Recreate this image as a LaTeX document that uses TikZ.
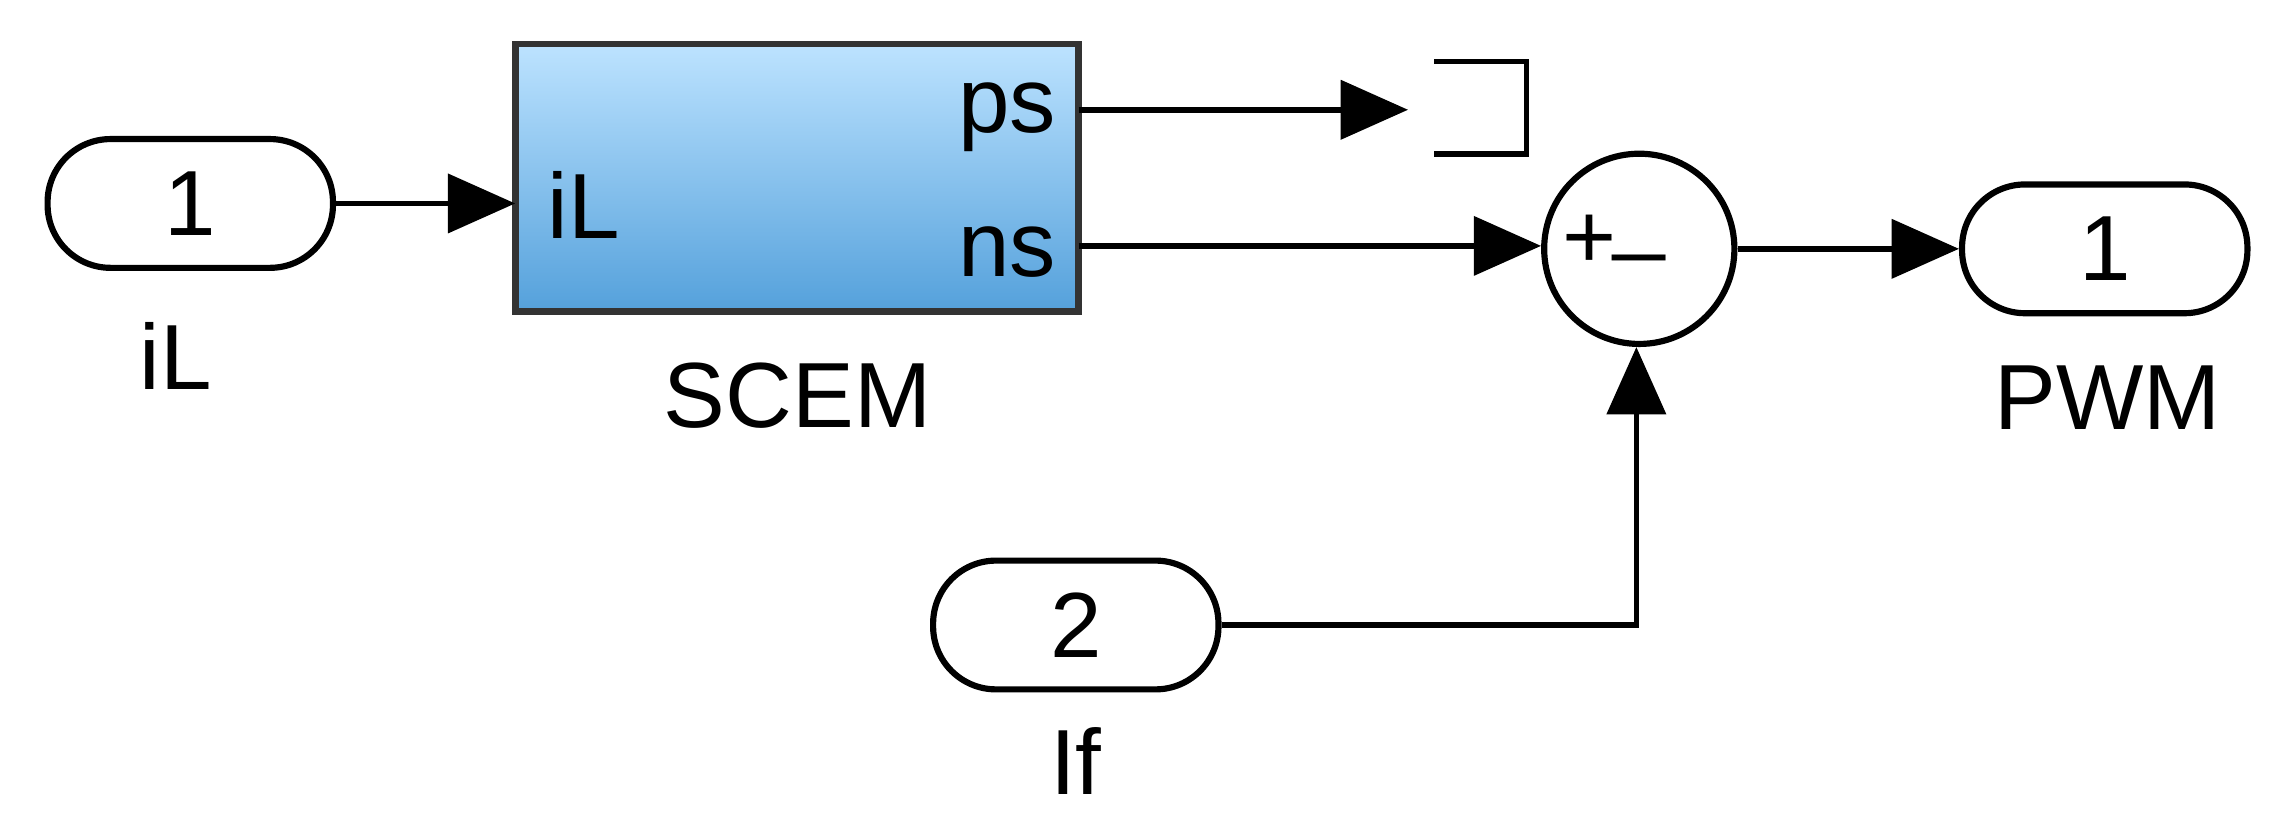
\documentclass[tikz,border=0pt]{standalone}
\usepackage{fontspec}
\setmainfont{Liberation Sans}
\usetikzlibrary{arrows.meta}
\definecolor{btop}{rgb}{0.74,0.89,1}
\definecolor{bbot}{rgb}{0.33,0.63,0.86}
\begin{document}
\begin{tikzpicture}[x=0.02cm,y=-0.02cm,
  every node/.style={font=\fontsize{36}{38}\selectfont},
  port/.style={draw,line width=2.4pt,rounded corners=0.86cm,minimum width=3.9cm,minimum height=1.76cm,inner sep=0pt},
  wire/.style={line width=2.2pt,-{Triangle[length=0.92cm,width=0.8cm]}},
  plain/.style={line width=2.2pt}]
\useasboundingbox (0,0) rectangle (1568,572);
\node[port] (in1) at (130,139) {1};
\node (lin1) at (120,243) {iL};
\node[draw=black!80,line width=2.6pt,top color=btop,bottom color=bbot,minimum width=7.7cm,minimum height=3.66cm,inner sep=0pt] (scem) at (544.5,121.5) {};
\node (lscem) at (545,270) {SCEM};
\node[anchor=west,inner sep=0pt] (piL) at (374,140) {iL};
\node[anchor=east,inner sep=0pt] (pps) at (722,80) {ps};
\node[anchor=east,inner sep=0pt] (pns) at (722,172) {ns};
\coordinate (psout) at (737,75);
\coordinate (nsout) at (737,168);
\coordinate (scemin) at (352,139);
\coordinate (term) at (962,75);
\draw[plain] (980,42) -- (1043,42) -- (1043,105) -- (980,105);
\node[draw,circle,line width=2.4pt,minimum size=2.6cm,inner sep=0pt] (sum) at (1120,170) {};
\node[inner sep=0pt] (plus) at (1086,165) {+};
\node[inner sep=0pt] (minus) at (1120,172) {\_};
\node[port] (out1) at (1438,170) {1};
\node (lout1) at (1440,272) {PWM};
\node[port] (in2) at (735,427) {2};
\node (lin2) at (735,520) {If};
\coordinate (corner) at (1118,427);
\draw[wire] (in1.east) -- (scemin);
\draw[wire] (psout) -- (term);
\draw[wire] (nsout) -- (sum.west |- nsout);
\draw[wire] (sum.east) -- (out1.west);
\draw[wire] (in2.east) -- (corner) -- (sum.south -| corner);
\end{tikzpicture}
\end{document}
